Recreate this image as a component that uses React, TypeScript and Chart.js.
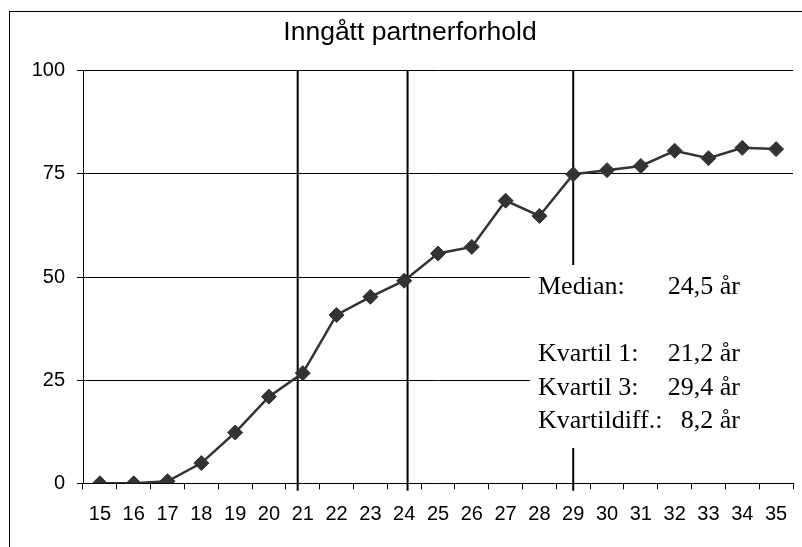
import { useEffect, useRef } from "react";
import { Chart, registerables } from "chart.js";

Chart.register(...registerables);

const chartTitle = "Inngått partnerforhold";
const ages = ["15", "16", "17", "18", "19", "20", "21", "22", "23", "24", "25", "26", "27", "28", "29", "30", "31", "32", "33", "34", "35"];
const partnerPct = [0, 0, 0.5, 4.9, 12.3, 21.0, 26.7, 40.8, 45.2, 49.1, 55.7, 57.3, 68.5, 64.8, 74.9, 75.9, 76.9, 80.6, 78.8, 81.3, 81.0];
const yTickValues = [0, 25, 50, 75, 100];
// vertical reference lines as drawn in the picture (kvartil 1, median, kvartil 3)
const markerAges = [20.85, 24.1, 29.0];
const statLabels = ["Median:", "", "Kvartil 1:", "Kvartil 3:", "Kvartildiff.:"];
const statValues = ["24,5 år", "", "21,2 år", "29,4 år", "8,2 år"];

const SANS = "'Liberation Sans', Arial, sans-serif";
const SERIF = "'Liberation Serif', 'Times New Roman', serif";

export default function App() {
  const ref = useRef<HTMLCanvasElement | null>(null);

  useEffect(() => {
    if (!ref.current) return;

    const framePlugin = {
      id: "frame",
      beforeDraw(chart: any) {
        const ctx = chart.ctx;
        ctx.save();
        ctx.fillStyle = "#ffffff";
        ctx.fillRect(0, 0, chart.width, chart.height);
        ctx.strokeStyle = "#000000";
        ctx.lineWidth = 1;
        ctx.strokeRect(9.5, 11.5, 1000, 1000);
        ctx.restore();
      },
    };

    const statsPlugin = {
      id: "stats",
      afterDatasetsDraw(chart: any) {
        const ctx = chart.ctx;
        const area = chart.chartArea;
        ctx.save();
        ctx.fillStyle = "#ffffff";
        ctx.fillRect(530, 265, area.right - 530 + 2, 448 - 265);
        ctx.fillStyle = "#000000";
        ctx.font = "26px " + SERIF;
        ctx.textBaseline = "alphabetic";
        const base = 293.5;
        const step = 33.7;
        statLabels.forEach((lab, i) => {
          if (!lab) return;
          const y = base + i * step;
          ctx.textAlign = "left";
          ctx.fillText(lab, 538, y);
          ctx.textAlign = "right";
          ctx.fillText(statValues[i], 740, y);
        });
        ctx.restore();
      },
    };

    const markerSets = markerAges.map((a) => ({
      type: "line" as const,
      xAxisID: "xl",
      data: [
        { x: a, y: 100 },
        { x: a, y: -1.8 },
      ],
      borderColor: "#000000",
      borderWidth: 2,
      pointRadius: 0,
      clip: false as any,
      order: 2,
    }));

    const chart = new Chart(ref.current, {
      type: "line",
      data: {
        labels: ages,
        datasets: [
          {
            data: partnerPct,
            xAxisID: "x",
            borderColor: "#333333",
            backgroundColor: "#333333",
            borderWidth: 2.5,
            pointStyle: "rectRot",
            pointRadius: 7.5,
            pointBorderWidth: 1,
            pointBorderColor: "#333333",
            pointBackgroundColor: "#333333",
            tension: 0,
            order: 0,
          } as any,
          ...(markerSets as any[]),
        ],
      },
      options: {
        responsive: false,
        animation: false,
        devicePixelRatio: 1,
        layout: { padding: { top: 12, left: 27, right: 9, bottom: 0 } },
        plugins: {
          legend: { display: false },
          tooltip: { enabled: false },
          title: {
            display: true,
            text: chartTitle,
            color: "#000000",
            font: { family: SANS, size: 26.5, weight: "normal" as any },
            padding: { top: 5.2, bottom: 21.7 },
          },
        },
        scales: {
          x: {
            type: "category",
            offset: true,
            grid: {
              drawOnChartArea: false,
              drawTicks: true,
              tickLength: 6,
              color: "#000000",
              offset: true,
            },
            border: { display: true, color: "#000000", width: 1 },
            ticks: {
              color: "#000000",
              font: { family: SANS, size: 20 },
              padding: 13,
              maxRotation: 0,
              autoSkip: false,
            },
            afterFit: (s: any) => {
              s.height = 63.7;
            },
          },
          xl: {
            type: "linear",
            display: false,
            min: 14.5,
            max: 35.5,
          },
          y: {
            type: "linear",
            min: 0,
            max: 100,
            afterBuildTicks: (s: any) => {
              s.ticks = yTickValues.map((v) => ({ value: v }));
            },
            grid: {
              color: "#000000",
              lineWidth: 1,
              drawTicks: true,
              tickLength: 6,
            },
            border: { display: true, color: "#000000", width: 1 },
            ticks: {
              color: "#000000",
              font: { family: SANS, size: 20 },
              padding: 12,
            },
            afterFit: (s: any) => {
              s.width = 56;
            },
          },
        },
      } as any,
      plugins: [framePlugin, statsPlugin],
    });

    return () => chart.destroy();
  }, []);

  return (
    <div style={{ position: "fixed", left: 0, top: 0, width: 802, height: 547, background: "#fff" }}>
      <canvas ref={ref} width={802} height={547} style={{ display: "block", width: 802, height: 547 }} />
    </div>
  );
}
